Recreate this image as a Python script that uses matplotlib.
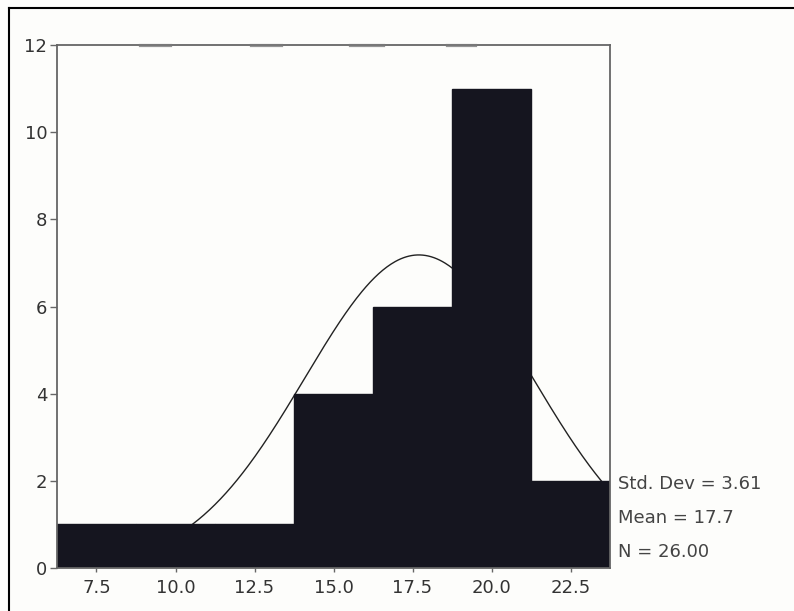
import matplotlib.pyplot as plt
import numpy as np
from matplotlib.lines import Line2D

# Histogram data
bin_centers = [7.5, 10.0, 12.5, 15.0, 17.5, 20.0, 22.5]
counts = [1, 1, 1, 4, 6, 11, 2]
bin_width = 2.5
x_ticks = [7.5, 10.0, 12.5, 15.0, 17.5, 20.0, 22.5]
y_ticks = [0, 2, 4, 6, 8, 10, 12]
std_dev = 3.61
mean = 17.7
n_total = 26.00

plt.rcParams['font.family'] = ['DejaVu Sans']

fig = plt.figure(figsize=(7.94, 6.11), dpi=100)
fig.patch.set_facecolor('#fdfdfb')

W, H = 794, 611
ax = fig.add_axes([57 / W, 1 - 568 / H, (610 - 57) / W, (568 - 45) / H])
ax.set_facecolor('#fdfdfb')

# fitted normal curve (drawn under the bars)
xs = np.linspace(6.25, 23.75, 400)
ys = n_total * bin_width / (std_dev * np.sqrt(2 * np.pi)) * np.exp(-0.5 * ((xs - mean) / std_dev) ** 2)
ax.plot(xs, ys, color='#222222', lw=1.0, zorder=1)

ax.bar(bin_centers, counts, width=bin_width, color='#15151f', edgecolor='#15151f', zorder=2)

ax.set_xlim(6.25, 23.75)
ax.set_ylim(0, 12)
ax.set_xticks(x_ticks)
ax.set_xticklabels(['%.1f' % t for t in x_ticks])
ax.set_yticks(y_ticks)
ax.tick_params(axis='both', direction='out', length=5, width=1, color='#666666',
               labelsize=13, labelcolor='#333333')
ax.tick_params(axis='x', length=3, pad=5)
ax.tick_params(axis='y', pad=2)

for side in ['left', 'top', 'right', 'bottom']:
    ax.spines[side].set_color('#666666')
    ax.spines[side].set_linewidth(1.3)

# faint darker smudges along the top border of the scan
for x0, x1 in [(0.15, 0.205), (0.35, 0.405), (0.53, 0.59), (0.705, 0.755)]:
    ax.plot([x0, x1], [1, 1], transform=ax.transAxes, color='#7a7a7a', lw=2.3,
            alpha=0.8, clip_on=False, zorder=5)

# summary statistics
stats = ['Std. Dev = %.2f' % std_dev, 'Mean = %.1f' % mean, 'N = %.2f' % n_total]
for i, s in enumerate(stats):
    fig.text(618 / W, 1 - (484 + i * 34) / H, s, fontsize=13, color='#444444',
             va='center', ha='left')

# outer frame
fig.add_artist(Line2D([9 / W, 9 / W], [0, 1 - 8 / H], color='black', lw=1.5))
fig.add_artist(Line2D([9 / W, 1], [1 - 8 / H, 1 - 8 / H], color='black', lw=1.5))

fig.savefig('out.png', dpi=100)
